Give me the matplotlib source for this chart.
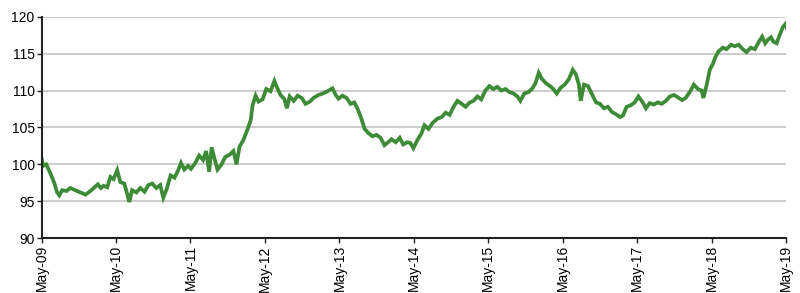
import matplotlib
matplotlib.use("Agg")
import matplotlib.pyplot as plt
import matplotlib.dates as mdates
import pandas as pd

plt.rcParams['font.family'] = ['Liberation Sans', 'DejaVu Sans']

# index level
dates = [
    "2009-05-01", "2009-05-09", "2009-05-24", "2009-06-13", "2009-07-02", "2009-07-16",
    "2009-07-27", "2009-08-10", "2009-09-01", "2009-09-19", "2009-10-13", "2009-11-07",
    "2009-12-02", "2009-12-27", "2010-01-16", "2010-02-01", "2010-02-16", "2010-03-01",
    "2010-03-19", "2010-04-04", "2010-04-19", "2010-05-07", "2010-05-22", "2010-06-11",
    "2010-06-25", "2010-07-05", "2010-07-19", "2010-08-09", "2010-08-28", "2010-09-18",
    "2010-10-07", "2010-10-26", "2010-11-15", "2010-12-04", "2010-12-19", "2011-01-04",
    "2011-01-24", "2011-02-12", "2011-03-02", "2011-03-16", "2011-04-01", "2011-04-20",
    "2011-05-04", "2011-05-25", "2011-06-13", "2011-07-02", "2011-07-17", "2011-08-01",
    "2011-08-13", "2011-08-27", "2011-09-11", "2011-10-01", "2011-10-19", "2011-11-09",
    "2011-11-28", "2011-12-13", "2011-12-28", "2012-01-16", "2012-02-06", "2012-02-21",
    "2012-03-01", "2012-03-16", "2012-03-30", "2012-04-19", "2012-05-07", "2012-05-28",
    "2012-06-16", "2012-07-01", "2012-07-16", "2012-08-05", "2012-08-16", "2012-08-30",
    "2012-09-19", "2012-10-08", "2012-10-28", "2012-11-16", "2012-12-07", "2012-12-25",
    "2013-01-19", "2013-02-09", "2013-03-04", "2013-03-28", "2013-04-13", "2013-04-27",
    "2013-05-16", "2013-06-05", "2013-06-25", "2013-07-13", "2013-07-28", "2013-08-13",
    "2013-09-02", "2013-09-22", "2013-10-10", "2013-10-30", "2013-11-19", "2013-12-08",
    "2013-12-22", "2014-01-12", "2014-02-01", "2014-02-21", "2014-03-10", "2014-03-30",
    "2014-04-14", "2014-04-29", "2014-05-19", "2014-06-08", "2014-06-22", "2014-07-12",
    "2014-08-01", "2014-08-25", "2014-09-15", "2014-10-04", "2014-10-24", "2014-11-12",
    "2014-12-01", "2014-12-22", "2015-01-10", "2015-01-31", "2015-02-18", "2015-03-09",
    "2015-03-28", "2015-04-17", "2015-05-07", "2015-05-26", "2015-06-15", "2015-07-04",
    "2015-07-25", "2015-08-13", "2015-09-02", "2015-09-21", "2015-10-06", "2015-10-25",
    "2015-11-15", "2015-12-04", "2015-12-19", "2016-01-04", "2016-01-19", "2016-02-08",
    "2016-02-28", "2016-03-16", "2016-04-01", "2016-04-21", "2016-05-10", "2016-05-30",
    "2016-06-19", "2016-07-04", "2016-07-19", "2016-07-28", "2016-08-13", "2016-09-02",
    "2016-09-21", "2016-10-11", "2016-10-30", "2016-11-19", "2016-12-08", "2016-12-28",
    "2017-01-16", "2017-02-06", "2017-02-20", "2017-03-10", "2017-03-30", "2017-04-19",
    "2017-05-07", "2017-05-28", "2017-06-13", "2017-07-01", "2017-07-22", "2017-08-10",
    "2017-08-29", "2017-09-19", "2017-10-08", "2017-10-28", "2017-11-16", "2017-12-07",
    "2017-12-25", "2018-01-14", "2018-02-03", "2018-02-23", "2018-03-13", "2018-03-22",
    "2018-04-07", "2018-04-22", "2018-05-07", "2018-05-19", "2018-06-04", "2018-06-25",
    "2018-07-13", "2018-08-04", "2018-08-22", "2018-09-11", "2018-10-01", "2018-10-19",
    "2018-11-09", "2018-11-29", "2018-12-19", "2019-01-04", "2019-01-19", "2019-02-02",
    "2019-02-16", "2019-03-01", "2019-03-16", "2019-04-01", "2019-04-16", "2019-05-01",
    "2019-05-06",
]
values = [
    100.8, 99.8, 100.0, 98.8, 97.5, 96.2,
    95.8, 96.5, 96.4, 96.8, 96.5, 96.2,
    95.9, 96.4, 96.9, 97.3, 96.8, 97.1,
    96.9, 98.3, 98.0, 99.2, 97.6, 97.4,
    96.0, 94.9, 96.5, 96.2, 96.8, 96.3,
    97.2, 97.4, 96.8, 97.2, 95.5, 96.6,
    98.5, 98.2, 99.2, 100.2, 99.3, 99.8,
    99.4, 100.2, 101.2, 100.6, 101.8, 99.0,
    102.3, 100.8, 99.3, 100.0, 101.0, 101.3,
    101.8, 100.0, 102.4, 103.3, 104.8, 106.0,
    108.0, 109.3, 108.5, 108.8, 110.2, 109.9,
    111.3, 110.3, 109.4, 108.8, 107.6, 109.2,
    108.6, 109.3, 109.0, 108.2, 108.5, 109.0,
    109.4, 109.6, 109.9, 110.3, 109.4, 108.9,
    109.3, 109.0, 108.2, 108.4, 107.6, 106.5,
    104.8, 104.2, 103.8, 104.0, 103.6, 102.6,
    102.9, 103.4, 103.0, 103.6, 102.7, 103.0,
    102.9, 102.2, 103.3, 104.2, 105.3, 104.8,
    105.6, 106.2, 106.4, 107.0, 106.7, 107.8,
    108.6, 108.2, 107.8, 108.4, 108.6, 109.2,
    108.8, 110.0, 110.6, 110.2, 110.5, 110.0,
    110.2, 109.8, 109.6, 109.2, 108.6, 109.6,
    109.8, 110.3, 111.0, 112.4, 111.6, 111.0,
    110.6, 110.2, 109.6, 110.4, 110.8, 111.5,
    112.8, 112.2, 110.8, 108.6, 110.8, 110.6,
    109.5, 108.4, 108.2, 107.6, 107.8, 107.1,
    106.8, 106.4, 106.6, 107.8, 108.0, 108.4,
    109.2, 108.4, 107.6, 108.3, 108.1, 108.4,
    108.2, 108.6, 109.2, 109.4, 109.1, 108.7,
    109.0, 109.8, 110.8, 110.2, 110.0, 109.0,
    110.8, 112.8, 113.6, 114.5, 115.3, 115.8,
    115.6, 116.2, 116.0, 116.2, 115.6, 115.2,
    115.8, 115.6, 116.6, 117.3, 116.4, 116.9,
    117.2, 116.6, 116.4, 117.6, 118.6, 119.1,
    118.4,
]

y_ticks = [90, 95, 100, 105, 110, 115, 120]

dt = pd.to_datetime(dates)

fig, ax = plt.subplots(figsize=(8, 2.93), dpi=100)
fig.subplots_adjust(left=0.052, right=0.983, top=0.943, bottom=0.187)

ax.plot(dt, values, color='#3d8b37', linewidth=2.7, solid_joinstyle='miter')

ax.set_ylim(90, 120)
ax.set_yticks(y_ticks)
ax.set_xlim(pd.Timestamp("2009-05-01"), pd.Timestamp("2019-05-03"))
ax.xaxis.set_major_locator(mdates.MonthLocator(bymonth=5, bymonthday=1))
ax.xaxis.set_major_formatter(mdates.DateFormatter('%b-%y'))
plt.setp(ax.get_xticklabels(), rotation=90)

ax.grid(axis='y', color='#c4c4c4', linewidth=1.2)
ax.set_axisbelow(True)
for side in ['top', 'right']:
    ax.spines[side].set_visible(False)
for side in ['left', 'bottom']:
    ax.spines[side].set_color('#222222')
    ax.spines[side].set_linewidth(1.5)
ax.tick_params(axis='both', labelsize=10, colors='#000000', length=3.5,
               width=1, direction='out', pad=1.5)
ax.tick_params(axis='both', color='#222222')

fig.savefig('out.png', dpi=100)
